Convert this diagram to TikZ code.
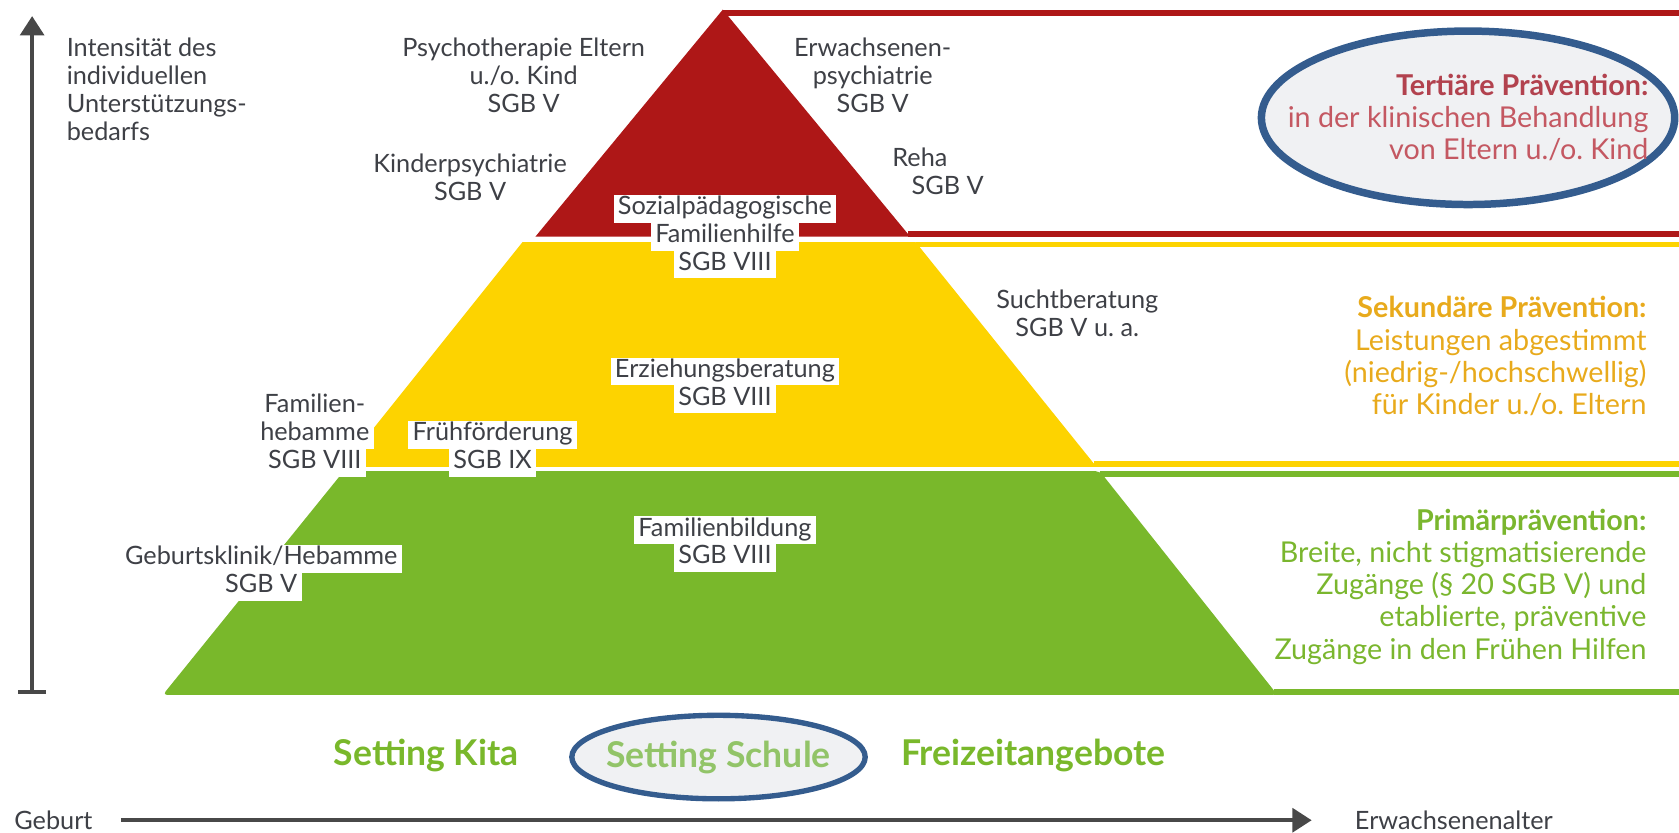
\documentclass[tikz,border=0pt]{standalone}
\usepackage{fontspec}
\setmainfont{Lato}
\usetikzlibrary{arrows.meta, shapes.geometric}
\frenchspacing

\definecolor{pyred}{RGB}{174,23,23}
\definecolor{pyyellow}{RGB}{253,211,0}
\definecolor{pygreen}{RGB}{121,184,43}
\definecolor{txtgray}{RGB}{62,64,70}
\definecolor{achsgray}{RGB}{72,72,72}
\definecolor{tertred}{RGB}{196,88,98}
\definecolor{tertdark}{RGB}{178,66,78}
\definecolor{sekgold}{RGB}{232,170,28}
\definecolor{primgreen}{RGB}{122,182,46}
\definecolor{schulgreen}{RGB}{146,196,104}
\definecolor{ovalblue}{RGB}{52,92,142}
\definecolor{ovalfill}{RGB}{240,241,243}

\begin{document}
\begin{tikzpicture}[x = 0.5pt, y = -0.5pt,
        every node/.style = {inner sep = 0pt, text = txtgray, font = \fontsize{11.8}{13.1}\selectfont},
        lbl/.style = {align = center},
        box/.style = {fill = white, inner xsep = 2pt, text height = 9.3pt, text depth = 3.7pt},
        side/.style = {align = right, font = \fontsize{13.4}{15}\selectfont},
        setting/.style = {font = \fontsize{16.6}{19}\selectfont\bfseries, text = pygreen},
        oval/.style = {ellipse, draw = ovalblue, line width = 2.5pt, fill = ovalfill},
        frame/.style = {line width = 2.6pt},
        achse/.style = {draw = achsgray, line width = 2pt, -{Triangle[length = 9pt, width = 11pt]}}]

        \useasboundingbox (0, 0) rectangle (1568, 777);

        \fill [pyred] (675, 9) -- (850, 221) -- (500, 221) -- cycle;
        \fill [pyyellow] (488, 226) -- (855, 226) -- (1024, 436) -- (320, 436) -- cycle;
        \fill [pygreen, rounded corners = 2pt] (321, 440) -- (1027, 440) -- (1193, 649) -- (152, 649) -- cycle;

        \draw [frame, pyred] (675, 12) -- (1572, 12);
        \draw [frame, pyred] (848, 218.5) -- (1572, 218.5);
        \draw [frame, pyyellow] (855, 228.5) -- (1572, 228.5);
        \draw [frame, pyyellow] (1022, 433.5) -- (1572, 433.5);
        \draw [frame, pygreen] (1027, 442.5) -- (1572, 442.5);
        \draw [frame, pygreen] (1190, 646.5) -- (1572, 646.5);

        \coordinate (vlow) at (30, 648);
        \coordinate (vhigh) at (30, 15);
        \draw [achse, {Bar[width = 13pt]}-{Triangle[length = 9pt, width = 11pt]}] (vlow) -- (vhigh);

        \node (geburt) at (13, 766) [anchor = west] {Geburt};
        \node (erwalter) at (1265, 766) [anchor = west] {Erwachsenenalter};
        \draw [achse, shorten <= 13pt, shorten >= 20pt] (geburt) -- (erwalter);

        \node (intens) at (62, 83.5) [anchor = west, align = left] {Intensität des\\individuellen\\Unterstützungs-\\bedarfs};
        \node (psycho) at (489, 70) [lbl] {Psychotherapie Eltern\\u./o. Kind\\SGB V};
        \node (kinder) at (439, 166) [lbl] {Kinderpsychiatrie\\SGB V};
        \node (erwpsy) at (815, 70) [lbl] {Erwachsenen-\\psychiatrie\\SGB V};
        \node (reha) at (833, 160) [anchor = west, align = left] {Reha\\\hspace*{9pt}SGB V};
        \node (sucht) at (1006, 293) [lbl] {Suchtberatung\\SGB V u. a.};

        \node (sozial1) at (677, 195) [box] {Sozialpädagogische};
        \node (sozial2) at (677, 221) [box] {Familienhilfe};
        \node (sozial3) at (677, 247) [box] {SGB VIII};

        \node (erz1) at (677, 347) [box] {Erziehungsberatung};
        \node (erz2) at (677, 373) [box] {SGB VIII};

        \node (fam1) at (294, 380) [box] {Familien-};
        \node (fam2) at (294, 406) [box] {hebamme};
        \node (fam3) at (294, 432) [box] {SGB VIII};

        \node (frueh1) at (460, 406) [box] {Frühförderung};
        \node (frueh2) at (460, 432) [box] {SGB IX};

        \node (bild1) at (677, 495) [box] {Familienbildung};
        \node (bild2) at (677, 521) [box] {SGB VIII};

        \node (geb1) at (244, 522) [box] {Geburtsklinik/Hebamme};
        \node (geb2) at (244, 548) [box] {SGB V};

        \node (tertoval) at (1371, 110) [oval, line width = 3.5pt, minimum width = 193pt, minimum height = 81pt] {};
        \node (tert) at (tertoval) [side, text = tertred] {\textbf{\color{tertdark}Tertiäre Prävention:}\\in der klinischen Behandlung\\von Eltern u./o. Kind};
        \node (sek) at (1538, 332.5) [side, anchor = east, text = sekgold] {\textbf{Sekundäre Prävention:}\\Leistungen abgestimmt\\(niedrig-/hochschwellig)\\für Kinder u./o. Eltern};
        \node (prim) at (1538, 548) [side, anchor = east, text = primgreen] {\textbf{Primärprävention:}\\Breite, nicht stigmatisierende\\Zugänge (§ 20 SGB V) und\\etablierte, präventive\\Zugänge in den Frühen Hilfen};

        \node (kita) at (398, 706) [setting] {Setting Kita};
        \node (schuloval) at (671, 707) [oval, minimum width = 137pt, minimum height = 39pt] {};
        \node (schule) at (schuloval) [setting, text = schulgreen] {Setting Schule};
        \node (freizeit) at (965, 706) [setting] {Freizeitangebote};

    \end{tikzpicture}
\end{document}
